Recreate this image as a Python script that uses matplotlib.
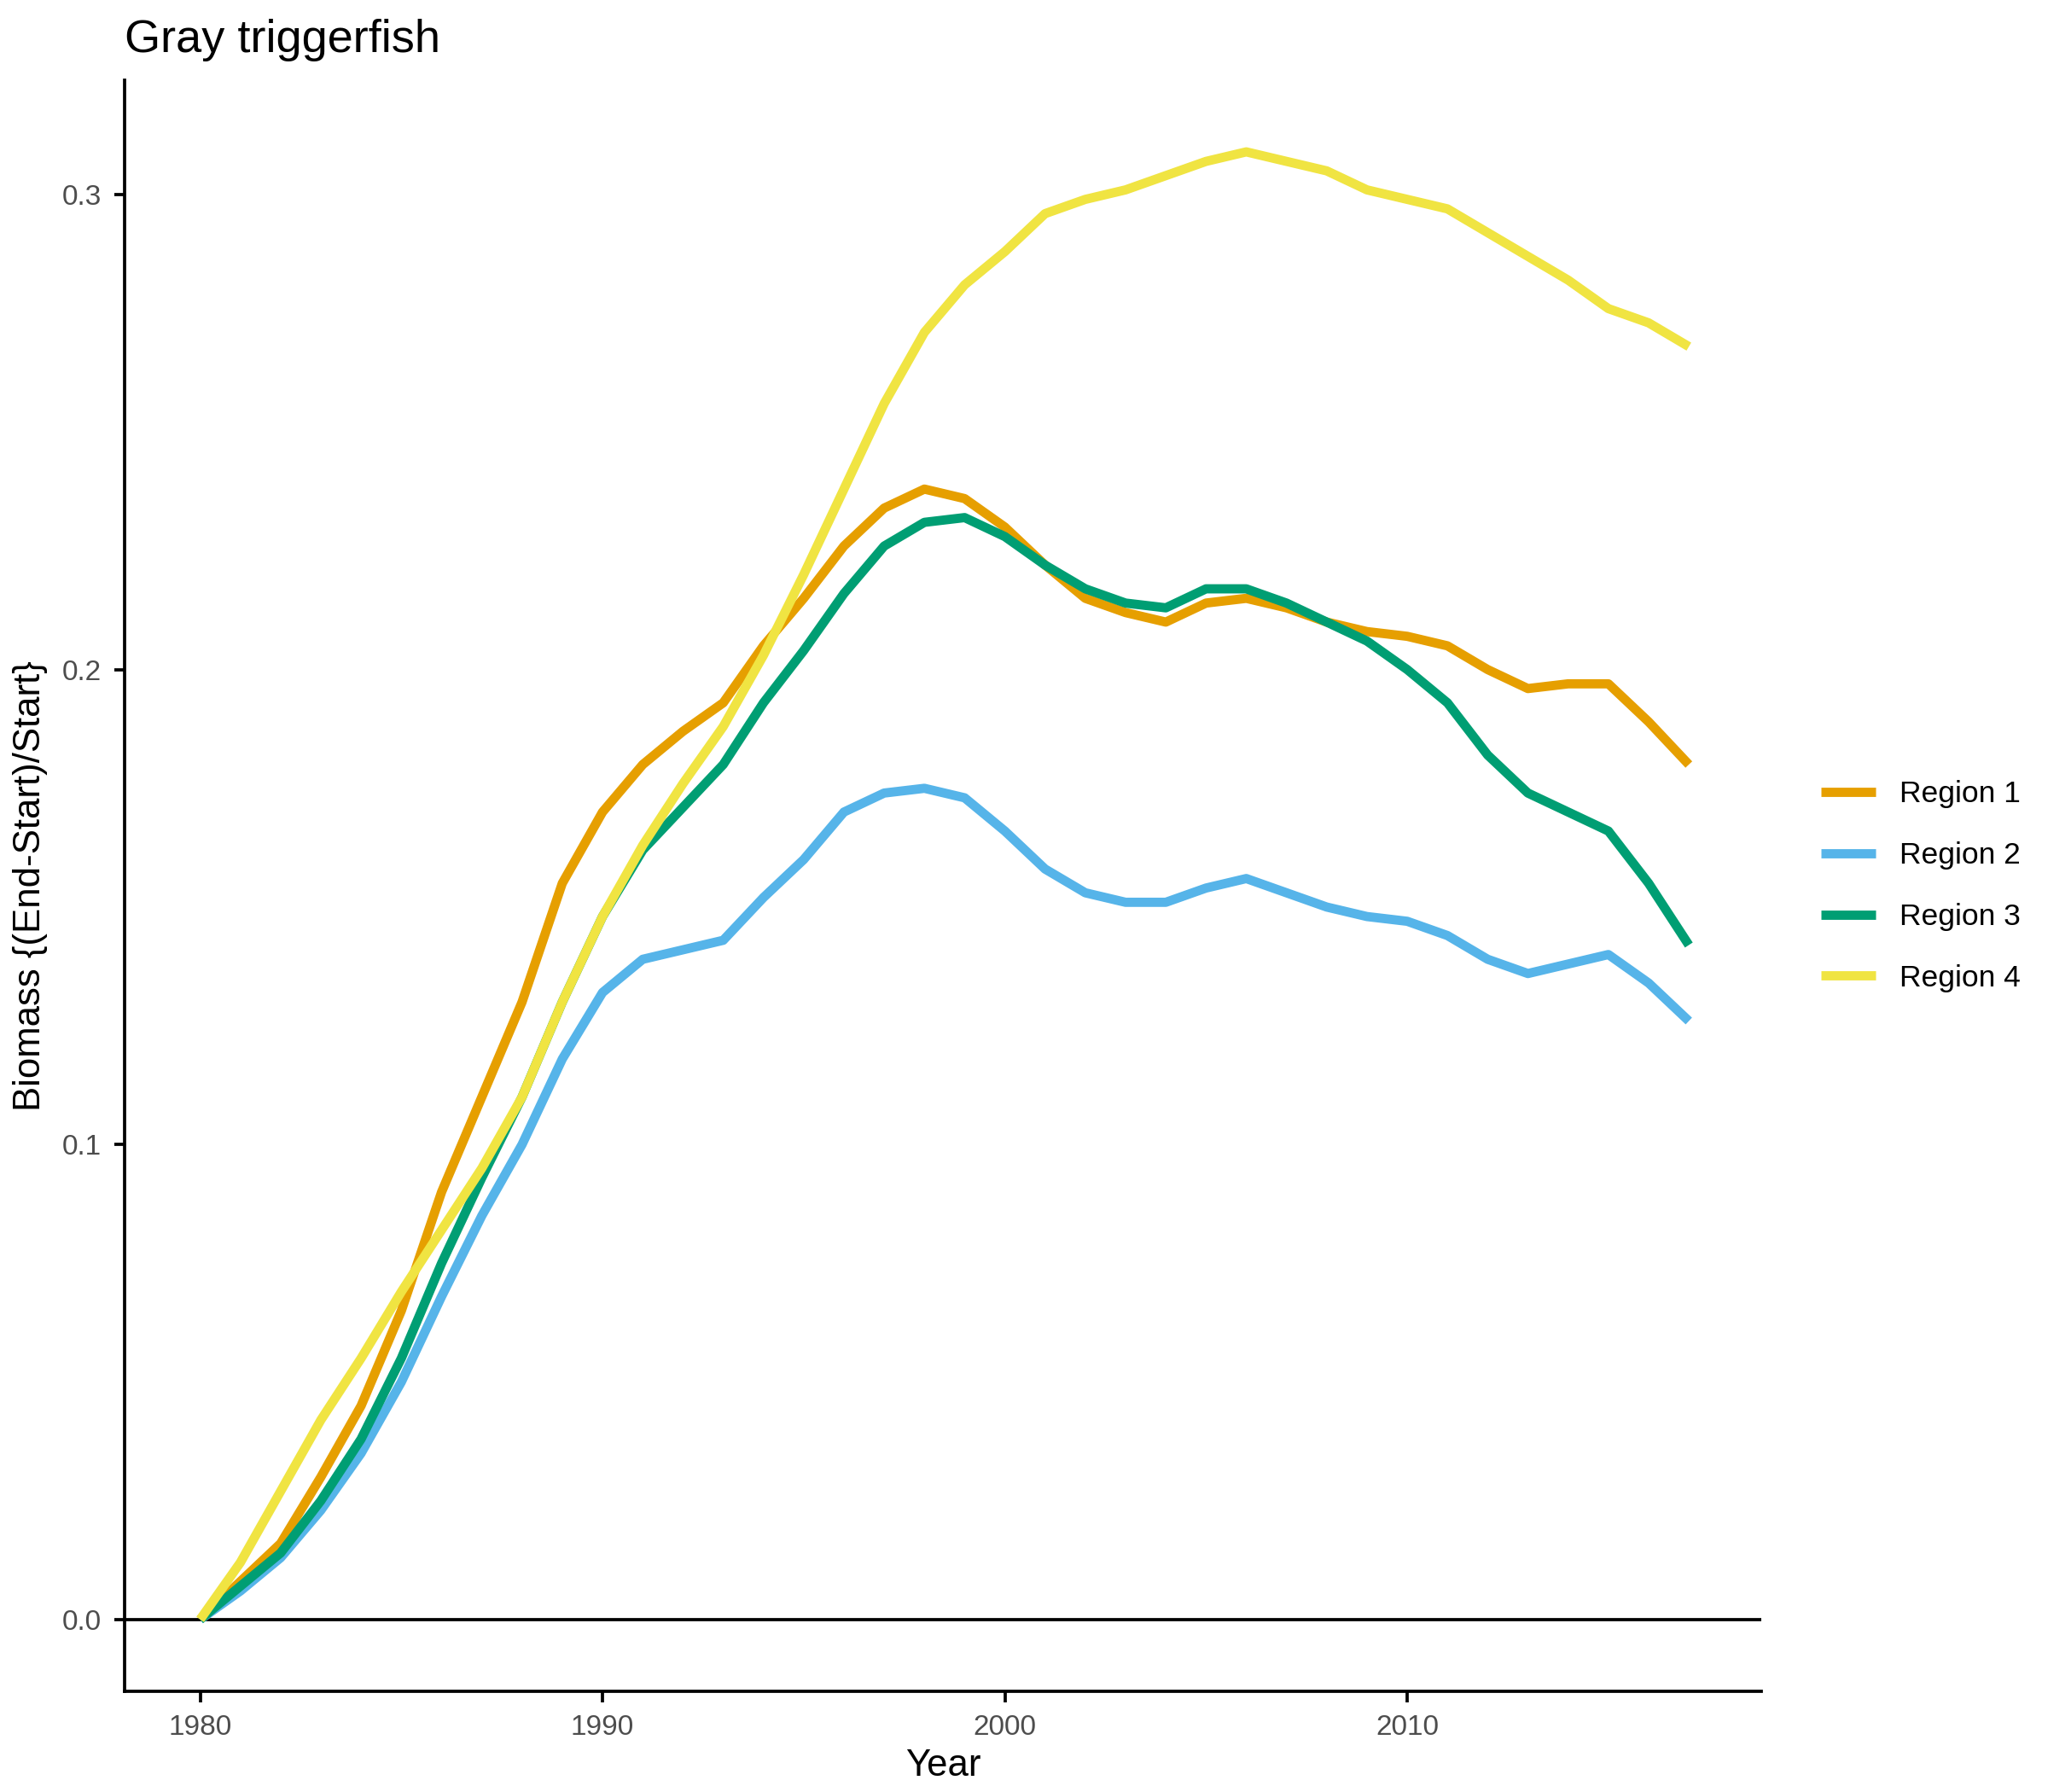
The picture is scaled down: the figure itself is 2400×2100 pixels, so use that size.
import matplotlib
matplotlib.use("Agg")
import matplotlib.pyplot as plt
import numpy as np

years = list(range(1980, 2018))
region1 = [0,0.008,0.016,0.03,0.045,0.065,0.09,0.11,0.13,0.155,0.17,0.18,0.187,0.193,0.205,0.215,0.226,0.234,0.238,0.236,0.23,0.222,0.215,0.212,0.21,0.214,0.215,0.213,0.21,0.208,0.207,0.205,0.2,0.196,0.197,0.197,0.189,0.18]
region2 = [0,0.006,0.013,0.023,0.035,0.05,0.068,0.085,0.1,0.118,0.132,0.139,0.141,0.143,0.152,0.16,0.17,0.174,0.175,0.173,0.166,0.158,0.153,0.151,0.151,0.154,0.156,0.153,0.15,0.148,0.147,0.144,0.139,0.136,0.138,0.14,0.134,0.126]
region3 = [0,0.007,0.014,0.025,0.038,0.055,0.075,0.093,0.11,0.13,0.148,0.162,0.171,0.18,0.193,0.204,0.216,0.226,0.231,0.232,0.228,0.222,0.217,0.214,0.213,0.217,0.217,0.214,0.21,0.206,0.2,0.193,0.182,0.174,0.17,0.166,0.155,0.142]
region4 = [0,0.012,0.027,0.042,0.055,0.069,0.082,0.095,0.11,0.13,0.148,0.163,0.176,0.188,0.203,0.22,0.238,0.256,0.271,0.281,0.288,0.296,0.299,0.301,0.304,0.307,0.309,0.307,0.305,0.301,0.299,0.297,0.292,0.287,0.282,0.276,0.273,0.268]
labels = ["Region 1", "Region 2", "Region 3", "Region 4"]
colors = ["#E69F00", "#56B4E9", "#009E73", "#F0E442"]

plt.rcParams['font.family'] = ['Liberation Sans', 'DejaVu Sans']
fig = plt.figure(figsize=(8, 7), dpi=300)
ax = fig.add_axes([0.061, 0.056, 0.799, 0.899])
for s, l, c in zip([region1, region2, region3, region4], labels, colors):
    ax.plot(years, s, color=c, lw=2.6, label=l, solid_capstyle='butt')
ax.axhline(0, color='black', lw=0.9, zorder=0)
ax.set_xlim(1978.13, 2018.8)
ax.set_ylim(-0.0152, 0.324)
ax.set_xticks([1980, 1990, 2000, 2010])
ax.set_yticks([0.0, 0.1, 0.2, 0.3])
ax.set_yticklabels(["0.0", "0.1", "0.2", "0.3"])
for sp in ['top', 'right']:
    ax.spines[sp].set_visible(False)
for sp in ['left', 'bottom']:
    ax.spines[sp].set_linewidth(0.9)
ax.tick_params(labelsize=8, labelcolor='#4d4d4d', width=0.9, length=3)
ax.set_xlabel("Year", fontsize=10.5, labelpad=2)
ax.set_ylabel("Biomass {(End-Start)/Start}", fontsize=10.5)
ax.set_title("Gray triggerfish", fontsize=13, loc='left', x=0.0, pad=8)
ax.legend(loc='center left', bbox_to_anchor=(1.02, 0.5), frameon=False, fontsize=8.5,
          handlelength=1.8, labelspacing=1.1)
fig.savefig("out.png", dpi=300)
